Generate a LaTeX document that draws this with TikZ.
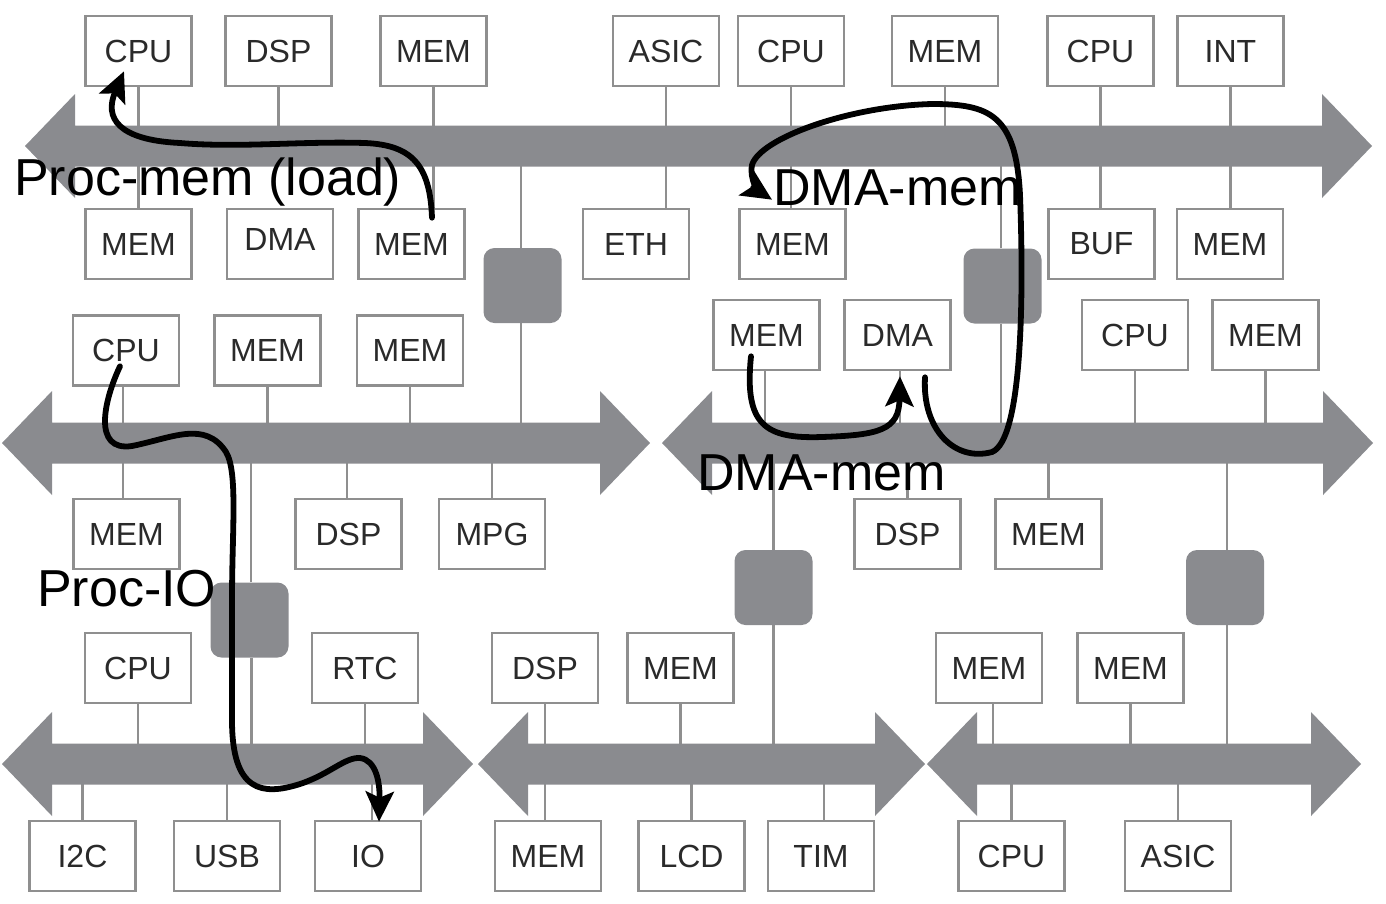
\documentclass[tikz,border=0pt]{standalone}
\usepackage{fontspec}
\setmainfont{Liberation Sans}
\usetikzlibrary{arrows.meta,calc,backgrounds}
\definecolor{busgray}{HTML}{8A8B8F}
\definecolor{linegray}{HTML}{8F8F8F}
\definecolor{labelgray}{HTML}{2A2A2A}
\newcommand\mybusfill[3]{\fill[busgray] (#1,#3) -- (#1+50,#3-52) -- (#1+50,#3-20.5) -- (#2-50,#3-20.5) -- (#2-50,#3-52) -- (#2,#3) -- (#2-50,#3+52) -- (#2-50,#3+20.5) -- (#1+50,#3+20.5) -- (#1+50,#3+52) -- cycle;}
\tikzset{
  unit/.style={draw=linegray, line width=2.6pt, fill=white, minimum width=106pt, minimum height=70pt, inner sep=0pt, text=labelgray, font=\fontsize{32}{36}\selectfont},
  unitlabel/.style={inner sep=0pt, text=labelgray, font=\fontsize{32}{36}\selectfont},
  bridgebox/.style={fill=busgray, rounded corners=11pt, minimum width=78pt, minimum height=75pt, inner sep=0pt},
  stub/.style={draw=linegray, line width=2.6pt},
  flow/.style={draw=black, line width=5.8pt, line cap=round, -{Stealth[length=30pt,width=28pt,inset=6pt]}},
  flowlabel/.style={font=\fontsize{52}{60}\selectfont, inner sep=0pt, anchor=base west, text=black},
}
\begin{document}
\begin{tikzpicture}[x=1pt,y=-1pt]
\useasboundingbox (0,0) rectangle (1386,903);
% bus reference levels
\coordinate (b1) at (0,146);
\coordinate (b2) at (0,443);
\coordinate (b3) at (700,443);
\coordinate (b4) at (0,764);
\coordinate (b5) at (500,764);
\coordinate (b6) at (950,764);
% row 1
\node[unit] (cpuA) at (138.5,51) {CPU};
\node[unit] (dspA) at (278.5,51) {DSP};
\node[unit] (memA) at (433.5,51) {MEM};
\node[unit] (asicA) at (666,51) {ASIC};
\node[unit] (cpuB) at (791,51) {CPU};
\node[unit] (memB) at (945,51) {MEM};
\node[unit] (cpuC) at (1100.5,51) {CPU};
\node[unit] (intA) at (1230.5,51) {INT};
% row 2
\node[unit] (memC) at (138.5,244) {MEM};
\node[unit] (dmaA) at (280,244) {};
\node[unitlabel] (dmaAtext) at (280,239) {DMA};
\node[unit] (memD) at (411.5,244) {MEM};
\node[unit] (eth) at (636,244) {ETH};
\node[unit] (memE) at (792.5,244) {MEM};
\node[unit] (buf) at (1101.5,244) {BUF};
\node[unit] (memF) at (1230,244) {MEM};
% row 3
\node[unit] (cpuD) at (126,350.5) {CPU};
\node[unit] (memG) at (267.5,350.5) {MEM};
\node[unit] (memH) at (410,350.5) {MEM};
\node[unit] (memI) at (766.5,335) {MEM};
\node[unit] (dmaB) at (897.5,335) {DMA};
\node[unit] (cpuE) at (1135,335) {CPU};
\node[unit] (memJ) at (1265.5,335) {MEM};
% row 4
\node[unit] (memK) at (126.5,534) {MEM};
\node[unit] (dspB) at (348.5,534) {DSP};
\node[unit] (mpg) at (492,534) {MPG};
\node[unit] (dspC) at (907.5,534) {DSP};
\node[unit] (memL) at (1048.5,534) {MEM};
% row 5
\node[unit] (cpuF) at (138,668) {CPU};
\node[unit] (rtc) at (365,668) {RTC};
\node[unit] (dspD) at (545,668) {DSP};
\node[unit] (memM) at (680.5,668) {MEM};
\node[unit] (memN) at (989,668) {MEM};
\node[unit] (memO) at (1130.5,668) {MEM};
% row 6
\node[unit] (i2c) at (82.5,856) {I2C};
\node[unit] (usb) at (227,856) {USB};
\node[unit] (io) at (368,856) {IO};
\node[unit] (memP) at (548,856) {MEM};
\node[unit] (lcd) at (691.5,856) {LCD};
\node[unit] (tim) at (821,856) {TIM};
\node[unit] (cpuG) at (1011.5,856) {CPU};
\node[unit] (asicB) at (1178,856) {ASIC};
% bridges
\node[bridgebox] (br1) at (522.5,285.5) {};
\node[bridgebox] (br2) at (1002.5,286) {};
\node[bridgebox] (br3) at (249.5,620) {};
\node[bridgebox] (br4) at (773.5,587.5) {};
\node[bridgebox] (br5) at (1225,587.5) {};
\begin{pgfonlayer}{background}
% bus 1 stubs
\draw[stub] (cpuA.south) -- (memC.north);
\draw[stub] (dspA.south) -- (dspA.south |- b1);
\draw[stub] (memA.south) -- (memA.south |- memD.north);
\draw[stub] (asicA.south) -- (asicA.south |- eth.north);
\draw[stub] (cpuB.south) -- (cpuB.south |- memE.north);
\draw[stub] (memB.south) -- (memB.south |- b1);
\draw[stub] (cpuC.south) -- (cpuC.south |- buf.north);
\draw[stub] (intA.south) -- (intA.south |- memF.north);
\draw[stub] ([xshift=-1.5pt]br1.north) -- ([xshift=-1.5pt]br1.north |- b1);
\draw[stub] ([xshift=-1.5pt]br2.north) -- ([xshift=-1.5pt]br2.north |- b1);
% bus 2 stubs
\draw[stub] ([xshift=-1.5pt]br1.south) -- ([xshift=-1.5pt]br1.south |- b2);
\draw[stub] ([xshift=-3pt]cpuD.south) -- ([xshift=-3pt]cpuD.south |- memK.north);
\draw[stub] (memG.south) -- (memG.south |- b2);
\draw[stub] (memH.south) -- (memH.south |- b2);
\draw[stub] ([xshift=1.5pt]br3.north) -- ([xshift=1.5pt]br3.north |- b2);
\draw[stub] ([xshift=-1.5pt]dspB.north) -- ([xshift=-1.5pt]dspB.north |- b2);
\draw[stub] (mpg.north) -- (mpg.north |- b2);
% bus 3 stubs
\draw[stub] ([xshift=-1.5pt]memI.south) -- ([xshift=-1.5pt]memI.south |- b3);
\draw[stub] ([xshift=2.5pt]dmaB.south) -- ([xshift=2.5pt]dmaB.south |- b3);
\draw[stub] ([xshift=-1.5pt]br2.south) -- ([xshift=-1.5pt]br2.south |- b3);
\draw[stub] (cpuE.south) -- (cpuE.south |- b3);
\draw[stub] (memJ.south) -- (memJ.south |- b3);
\draw[stub] (br4.north) -- (br4.north |- b3);
\draw[stub] (dspC.north) -- (dspC.north |- b3);
\draw[stub] (memL.north) -- (memL.north |- b3);
\draw[stub] ([xshift=2pt]br5.north) -- ([xshift=2pt]br5.north |- b3);
% bus 4 stubs
\draw[stub] (cpuF.south) -- (cpuF.south |- b4);
\draw[stub] ([xshift=2pt]br3.south) -- ([xshift=2pt]br3.south |- b4);
\draw[stub] (rtc.south) -- (rtc.south |- b4);
\draw[stub] (i2c.north) -- (i2c.north |- b4);
\draw[stub] (usb.north) -- (usb.north |- b4);
\draw[stub] ([xshift=4pt]io.north) -- ([xshift=4pt]io.north |- b4);
% bus 5 stubs
\draw[stub] (dspD.south) -- (dspD.south |- memP.north);
\draw[stub] (memM.south) -- (memM.south |- b5);
\draw[stub] (br4.south) -- (br4.south |- b5);
\draw[stub] (lcd.north) -- (lcd.north |- b5);
\draw[stub] ([xshift=3pt]tim.north) -- ([xshift=3pt]tim.north |- b5);
% bus 6 stubs
\draw[stub] ([xshift=4pt]memN.south) -- ([xshift=4pt]memN.south |- b6);
\draw[stub] (memO.south) -- (memO.south |- b6);
\draw[stub] ([xshift=2pt]br5.south) -- ([xshift=2pt]br5.south |- b6);
\draw[stub] (cpuG.north) -- (cpuG.north |- b6);
\draw[stub] (asicB.north) -- (asicB.north |- b6);
% buses
\mybusfill{25}{1372}{146}
\mybusfill{2}{650}{443}
\mybusfill{662}{1373}{443}
\mybusfill{2}{473}{764}
\mybusfill{478}{925}{764}
\mybusfill{927}{1361}{764}
\end{pgfonlayer}
% labels
\node[flowlabel] (lblload) at (14,195) {Proc-mem (load)};
\node[flowlabel] (lbldmatop) at (773,205) {DMA-mem};
\node[flowlabel] (lbldmabot) at (697,490) {DMA-mem};
\node[flowlabel] (lblio) at (37,606) {Proc-IO};
% flows
\draw[flow] ($(memD.north)+(20.5,10)$) .. controls (430,165) and (412,145) .. (365,143)
  .. controls (300,141) and (240,148) .. (180,143)
  .. controls (118,140) and (104,118) .. ($(cpuA.south)+(-14.5,-16)$);
\draw[flow] ($(dmaB.south)+(27.5,6)$) .. controls (922,430) and (955,462) .. (992,452)
  .. controls (1022,440) and (1024,300) .. (1020,195)
  .. controls (1016,115) and (990,104) .. (932,104)
  .. controls (850,106) and (760,138) .. (752,165)
  .. controls (749,180) and (760,192) .. ($(memE.north)+(-20.5,-8)$);
\draw[flow] ($(memI.south)+(-15.5,-15)$) .. controls (744,425) and (765,439) .. (822,437)
  .. controls (880,435) and (899,430) .. ($(dmaB.south)+(2.5,5)$);
\draw[flow] ($(cpuD.south)+(-6,-20.5)$) .. controls (104,400) and (92,452) .. (132,446)
  .. controls (172,438) and (205,420) .. (226,452)
  .. controls (238,472) and (232,530) .. (232,600)
  -- (232,720)
  .. controls (232,792) and (262,796) .. (300,784)
  .. controls (330,774) and (345,757) .. (360,758)
  .. controls (376,760) and (380,782) .. ($(io.north)+(11,2)$);
\end{tikzpicture}
\end{document}
